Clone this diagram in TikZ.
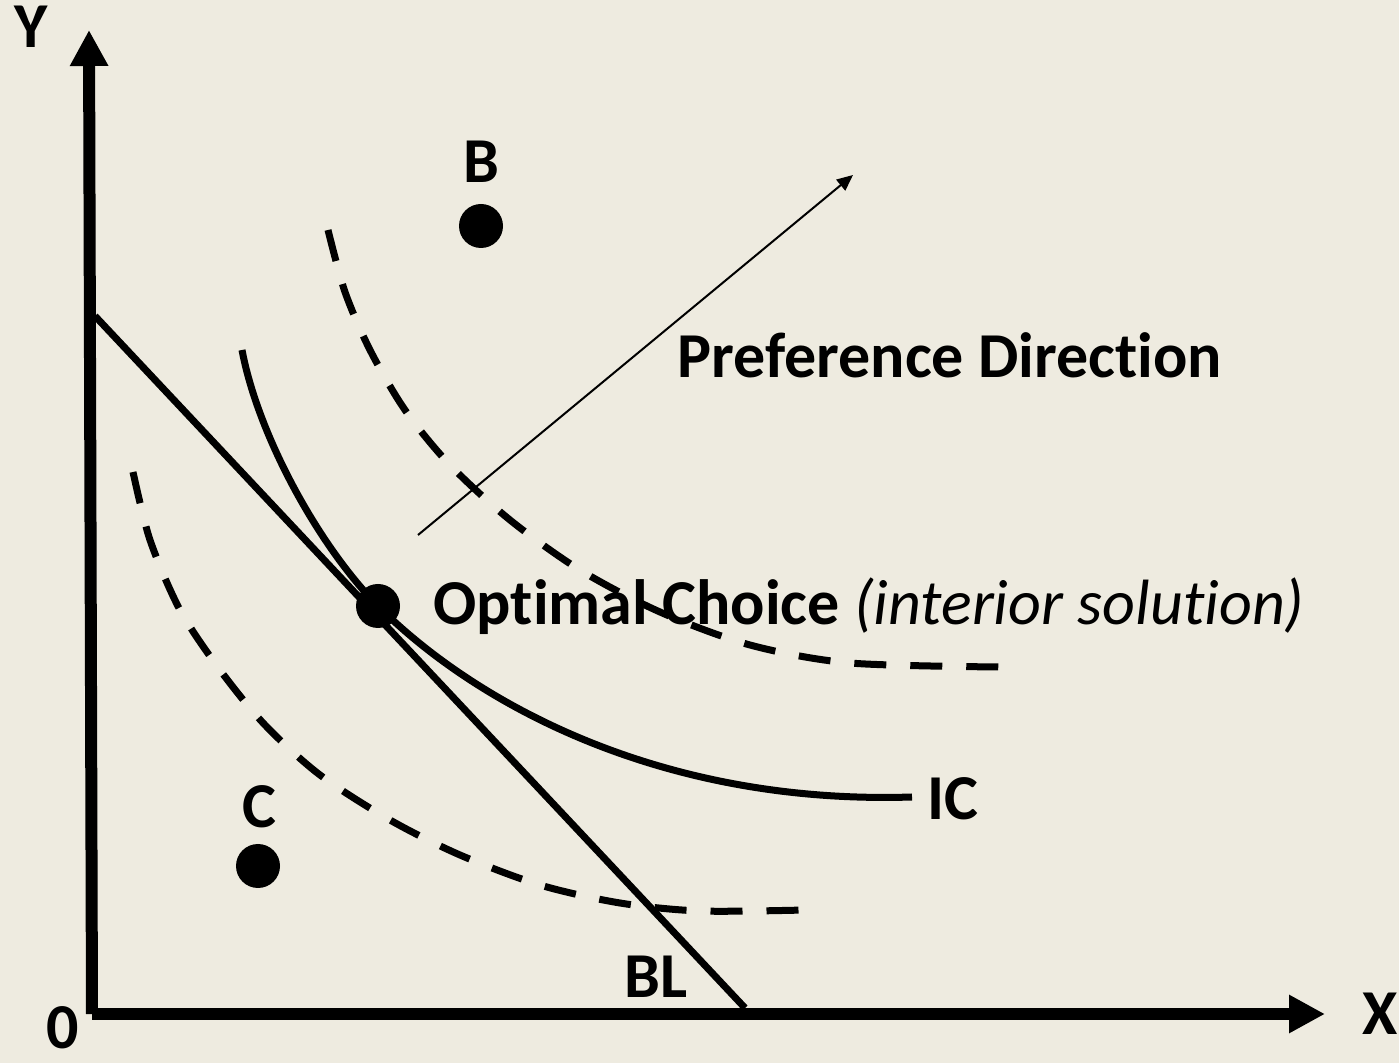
\documentclass[tikz,border=0pt]{standalone}
\usepackage{fontspec}
\setmainfont{Carlito}[Ligatures=NoCommon, RawFeature={-calt;-dlig}]
\usepackage{tikz}
\usetikzlibrary{arrows.meta}
\definecolor{PaperBeige}{RGB}{238,235,224}

\begin{document}
\begin{tikzpicture}[
x=0.5pt, y=-0.5pt,
font=\fontsize{32}{38}\selectfont\bfseries,
axis/.style={line width=6pt, -{Triangle[length=18pt,width=18pt]}},
curve/.style={line width=3.5pt},
dashcurve/.style={line width=3.5pt, dash pattern=on 16pt off 12pt},
pref/.style={line width=1pt, -{Triangle[length=8pt,width=7pt]}},
bundle/.style={circle, fill=black, inner sep=0pt, minimum size=22pt},
lbl/.style={anchor=base west, inner sep=0pt}
]
\useasboundingbox[fill=PaperBeige] (0,0) rectangle (1399,1063);

% axes
\coordinate (origin) at (92,1014);
\coordinate (ytip) at (89,30);
\coordinate (xtip) at (1325,1014);
\draw[axis] (origin) -- (ytip);
\draw[axis] (origin) -- (xtip);
\node[lbl] (ylab) at (14,48) {Y};
\node[lbl] (xlab) at (1362,1035) {X};
\node[lbl] (olab) at (46,1048) {0};

% budget line
\coordinate (blTop) at (95,316);
\coordinate (blEnd) at (745,1008);
\draw[curve] (blTop) -- (blEnd);
\node[lbl] (bl) at (624,997) {BL};

% indifference curves
\draw[dashcurve] plot[smooth] coordinates {(328,230) (345,292) (370,350) (405,410) (450,465) (510,520) (580,570) (660,612) (750,645) (850,663) (1000,667)};
\draw[curve] (242,350) .. controls (258,435) and (318,545) .. (378,606)
  .. controls (475,703) and (660,805) .. (912,797);
\draw[dashcurve] plot[smooth] coordinates {(133,472) (150,540) (180,610) (220,670) (265,725) (320,775) (390,820) (460,855) (540,885) (620,903) (700,911) (805,910)};
\node[lbl] (ic) at (927,820) {IC};

% preference direction
\coordinate (prefStart) at (418,535);
\coordinate (prefEnd) at (853,175);
\draw[pref] (prefStart) -- (prefEnd);
\node[lbl] (preflab) at (677,378) {Preference Direction};

% bundles
\node[bundle] (ptB) at (481,226) {};
\node[bundle] (ptC) at (258,866) {};
\node[bundle] (ptOpt) at (378,606) {};
\node[lbl] (labB) at (463,183) {B};
\node[lbl] (labC) at (242,828) {C};
\node[lbl] (labOpt) at (433,625) {Optimal Choice \textit{\mdseries(interior solution)}};
\end{tikzpicture}
\end{document}
